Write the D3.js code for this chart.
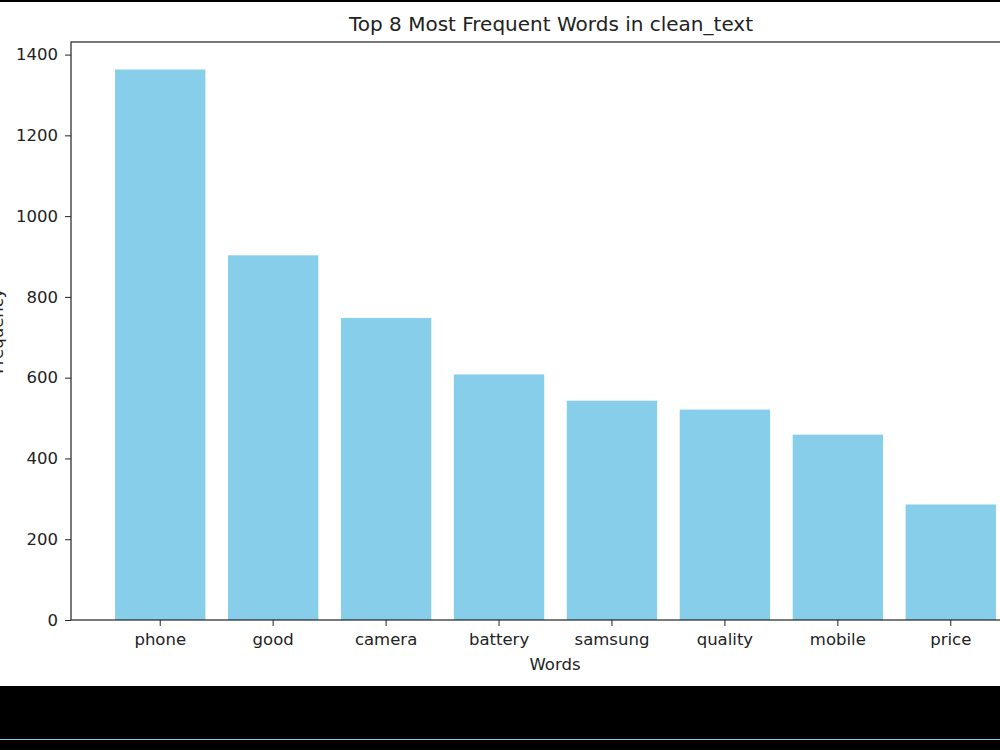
<!DOCTYPE html>
<html>
<head>
<meta charset="utf-8">
<script src="https://cdn.jsdelivr.net/npm/d3@7"></script>
<style>
  body { margin: 0; background: #000; }
  svg { display: block; }
  svg text { font-family: "DejaVu Sans", sans-serif; }
</style>
</head>
<body>
<div id="vis"></div>
<script>
// data
var words = ["phone", "good", "camera", "battery", "samsung", "quality", "mobile", "price"];
var counts = [1363, 903, 748, 608, 543, 521, 459, 286];
var yTicks = [0, 200, 400, 600, 800, 1000, 1200, 1400];

var width = 1000, height = 750;

var svg = d3.select("#vis")
  .append("svg")
  .attr("width", width)
  .attr("height", height);

// white page area between the black bands
svg.append("rect")
  .attr("x", 0).attr("y", 2)
  .attr("width", width).attr("height", 684)
  .attr("fill", "#fff");

svg.append("line")
  .attr("x1", 0).attr("x2", width)
  .attr("y1", 739.5).attr("y2", 739.5)
  .attr("stroke", "#87ceeb")
  .attr("stroke-width", 1);

var plot = {left: 71, right: 1040, top: 42, bottom: 620};

// index scale, matplotlib style margins around the bars
var xi = d3.scaleLinear().domain([-0.79, 7.79]).range([plot.left, plot.right]);

var x = d3.scaleBand()
  .domain(words)
  .range([xi(-0.5), xi(7.5)])
  .paddingInner(0.2)
  .paddingOuter(0.1);

var y = d3.scaleLinear()
  .domain([0, d3.max(counts) * 1.05])
  .range([plot.bottom, plot.top]);

var data = words.map(function(w, i) { return {word: w, count: counts[i]}; });

var fontSize = "16.5px";

// bars
svg.selectAll(".bar")
  .data(data)
  .enter().append("rect")
  .attr("class", "bar")
  .attr("x", function(d) { return x(d.word); })
  .attr("y", function(d) { return y(d.count); })
  .attr("width", x.bandwidth())
  .attr("height", function(d) { return plot.bottom - y(d.count); })
  .attr("fill", "#87ceeb");

// x axis
var xAxis = svg.append("g")
  .attr("transform", "translate(0," + plot.bottom + ")")
  .call(d3.axisBottom(x).tickSizeOuter(0).tickSize(6).tickPadding(7));
xAxis.select(".domain").remove();
xAxis.selectAll("text").style("font-size", fontSize).attr("fill", "#222");
xAxis.selectAll("line").attr("stroke", "#222");

// y axis
var yAxis = svg.append("g")
  .attr("transform", "translate(" + plot.left + ",0)")
  .call(d3.axisLeft(y).tickValues(yTicks).tickFormat(d3.format("d"))
    .tickSizeOuter(0).tickSize(6).tickPadding(7));
yAxis.select(".domain").remove();
yAxis.selectAll("text").style("font-size", fontSize).attr("fill", "#222");
yAxis.selectAll("line").attr("stroke", "#222");

// spines
svg.append("rect")
  .attr("x", plot.left).attr("y", plot.top)
  .attr("width", plot.right - plot.left)
  .attr("height", plot.bottom - plot.top)
  .attr("fill", "none")
  .attr("stroke", "#222")
  .attr("stroke-width", 1.2);

// title and axis labels
svg.append("text")
  .attr("x", 551)
  .attr("y", 31)
  .attr("text-anchor", "middle")
  .style("font-size", "20px")
  .attr("fill", "#222")
  .text("Top 8 Most Frequent Words in clean_text");

svg.append("text")
  .attr("x", 555)
  .attr("y", 670)
  .attr("text-anchor", "middle")
  .style("font-size", fontSize)
  .attr("fill", "#222")
  .text("Words");

svg.append("text")
  .attr("transform", "translate(3," + (plot.top + plot.bottom) / 2 + ") rotate(-90)")
  .attr("text-anchor", "middle")
  .style("font-size", fontSize)
  .attr("fill", "#222")
  .text("Frequency");
</script>
</body>
</html>
